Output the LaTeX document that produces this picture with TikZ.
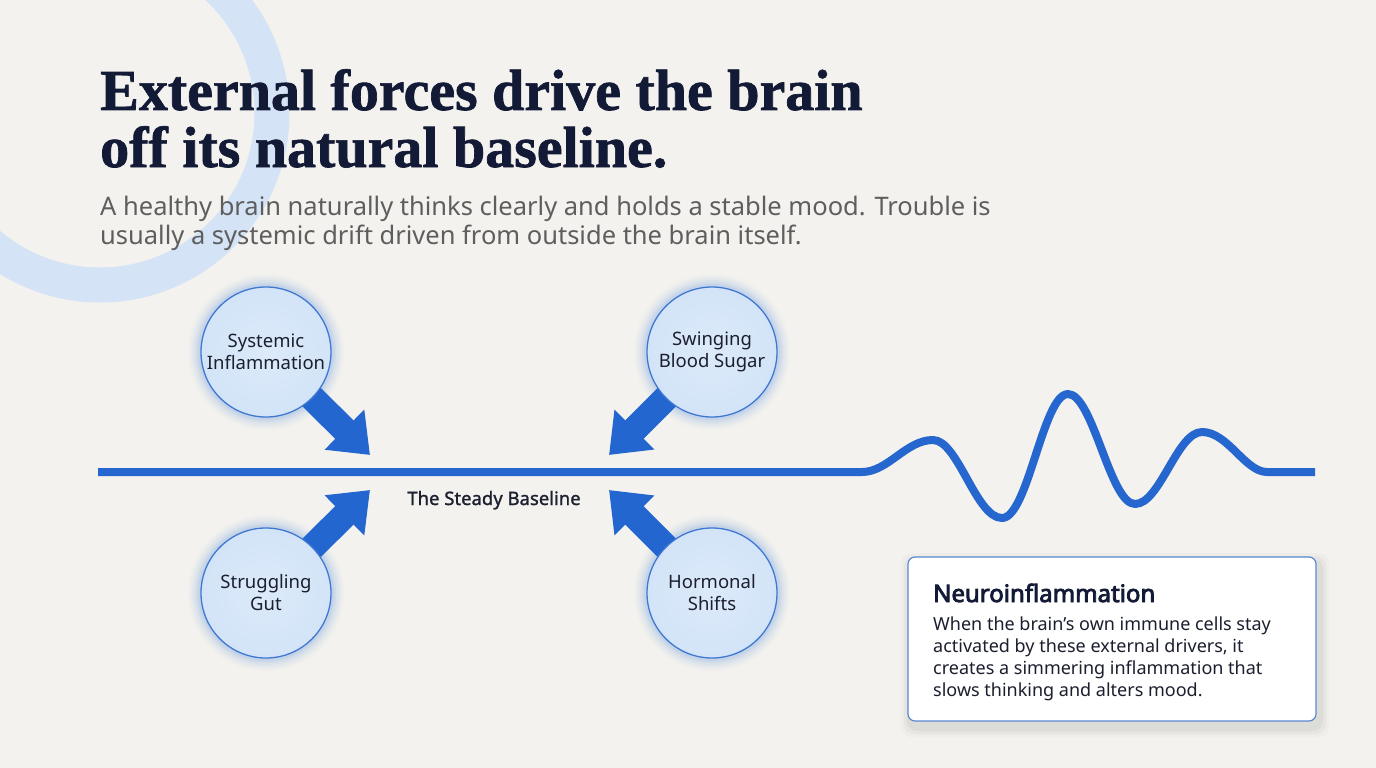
\documentclass[tikz,border=0pt]{standalone}
\usepackage{fontspec}
\setmainfont{Noto Sans}
\newfontfamily\titlefont{Liberation Serif}[FakeBold=1.2]
\newfontfamily\medfont{Noto Sans}[FakeBold=1.2]
\newfontfamily\boldfont{Noto Sans}[FakeBold=3.4]
\usetikzlibrary{arrows.meta}
\definecolor{bg}{HTML}{F3F2EE}
\definecolor{ringc}{HTML}{D4E3F6}
\definecolor{navy}{HTML}{121A36}
\definecolor{subgray}{HTML}{5E5E5E}
\definecolor{dark}{HTML}{1B1F2E}
\definecolor{lineblue}{HTML}{2667CF}
\definecolor{arrowblue}{HTML}{2466D0}
\definecolor{cfill}{HTML}{D3E4F8}
\definecolor{cfillin}{HTML}{DCEAFA}
\definecolor{cborder}{HTML}{3F78D0}
\definecolor{glowc}{HTML}{5C93E6}
\definecolor{boxborder}{HTML}{5B89D0}
\tikzset{
  bub/.style={circle, minimum size=130pt, inner sep=0pt, draw=cborder, line width=1.3pt,
    inner color=cfillin, outer color=cfill, align=center, text=dark,
    font=\fontsize{18.5}{22}\selectfont},
  bigarrow/.style={line width=26pt, draw=arrowblue, -{Triangle[length=36pt,width=54pt]}},
  glow/.style={fill=glowc},
}
\begin{document}
\begin{tikzpicture}[x=1pt,y=-1pt]
\useasboundingbox (0,0) rectangle (1376,768);
\fill[bg] (0,0) rectangle (1376,768);
\begin{scope}
\clip (0,0) rectangle (1376,768);
\draw[ringc, line width=35pt] (100,113) circle[radius=172pt];
\end{scope}

% title
\node[anchor=base west, inner sep=0pt, text=navy, font=\titlefont\bfseries\fontsize{58}{58}\selectfont] (title1) at (100,110) {External forces drive the brain};
\node[anchor=base west, inner sep=0pt, text=navy, font=\titlefont\bfseries\fontsize{58}{58}\selectfont] (title2) at (100,167) {off its natural baseline.};
\node[anchor=base west, inner sep=0pt, text=subgray, font=\fontsize{25.5}{28}\selectfont] (sub1) at (100,215) {A healthy brain naturally thinks clearly and holds a stable mood. Trouble is};
\node[anchor=base west, inner sep=0pt, text=subgray, font=\fontsize{25.5}{28}\selectfont] (sub2) at (100,244) {usually a systemic drift driven from outside the brain itself.};

% centers and tips
\coordinate (c1) at (266,352);
\coordinate (c2) at (712,352);
\coordinate (c3) at (266,593);
\coordinate (c4) at (712,593);
\coordinate (t1) at (370,455);
\coordinate (t2) at (609,455);
\coordinate (t3) at (370,490);
\coordinate (t4) at (609,490);

% glow
\foreach \c in {c1,c2,c3,c4}{
  \foreach \r/\o in {78/0.025,76/0.035,74/0.045,72/0.06,70/0.08,68/0.1}{
    \fill[glow, opacity=\o] (\c) circle[radius=\r pt];
  }
}

% arrows
\draw[bigarrow] (c1) -- (t1);
\draw[bigarrow] (c2) -- (t2);
\draw[bigarrow] (c3) -- (t3);
\draw[bigarrow] (c4) -- (t4);

% baseline and wave
\draw[lineblue, line width=8pt, line join=round]
  (98,472) -- (862,472)
  .. controls (888,472) and (906,440) .. (933,440)
  .. controls (958,440) and (976,518) .. (1002,518)
  .. controls (1028,518) and (1043,394) .. (1068,394)
  .. controls (1093,394) and (1110,504) .. (1135,504)
  .. controls (1160,504) and (1177,432) .. (1202,432)
  .. controls (1228,432) and (1245,472) .. (1267,472)
  -- (1315,472);

\node[inner sep=0pt, anchor=base, text=dark, font=\medfont\fontsize{18.5}{20}\selectfont] (base) at (494,505) {The Steady Baseline};

% bubbles
\node[bub] (n1) at (c1) {Systemic\\Inflammation};
\node[bub] (n2) at (c2) {Swinging\\Blood Sugar};
\node[bub] (n3) at (c3) {Struggling\\Gut};
\node[bub] (n4) at (c4) {Hormonal\\Shifts};

% box
\foreach \d/\o in {10/0.02,7/0.03,4/0.04}{
  \fill[black, opacity=\o, rounded corners=10pt] (908-\d+3,557-\d+6) rectangle (1316+\d+3,721+\d+6);
}
\draw[boxborder, fill=white, line width=1.2pt, rounded corners=7pt] (908,557) rectangle (1316,721);
\node[anchor=base west, inner sep=0pt, text=navy, font=\boldfont\fontsize{24}{28}\selectfont] (bt) at (933,602) {Neuroinflammation};
\node[anchor=base west, inner sep=0pt, text=dark, align=left, font=\fontsize{18}{22}\selectfont] (bb) at (933,696) {When the brain’s own immune cells stay\\activated by these external drivers, it\\creates a simmering inflammation that\\slows thinking and alters mood.};
\end{tikzpicture}
\end{document}
